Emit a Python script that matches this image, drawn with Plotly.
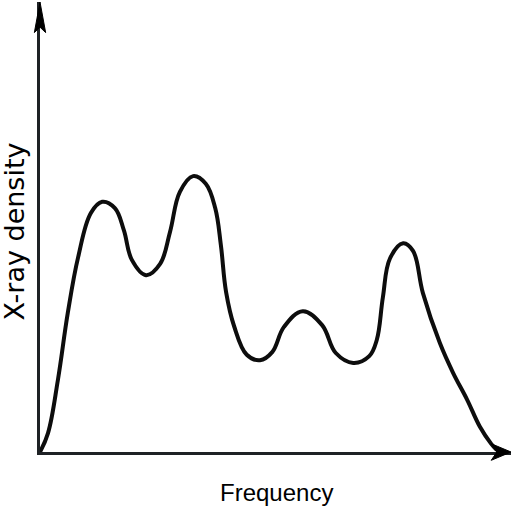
import plotly.graph_objects as go

# curve (frequency 0-100, density 0-100)
frequency = [0, 1.7, 3.8, 5.9, 8.1, 10.8, 13.2, 15.9, 17.8, 19.5, 22.5, 25.5, 27.6,
             29.7, 32.5, 35.2, 37.2, 38.4, 39.5, 41.2, 43.9, 46.7, 49.3, 51.8, 55.8,
             59.9, 62.8, 66.5, 69.9, 71.5, 72.8, 74.3, 77.1, 79.2, 81.3, 84.9, 87.7,
             90.7, 93.4, 95.8, 97.0]
density = [0, 4.2, 16.0, 30.9, 43.3, 53.1, 55.6, 54.2, 49.3, 42.7, 39.3, 41.8, 48.9,
           57.8, 61.3, 59.6, 54.2, 46.0, 35.6, 28.0, 21.6, 20.4, 22.2, 27.8, 31.3,
           28.2, 22.0, 19.8, 21.3, 24.9, 34.4, 43.0, 46.4, 44.7, 35.3, 24.2, 17.6,
           11.6, 5.6, 1.8, 0.4]

x_title = "Frequency"
y_title = "X-ray density"

fig = go.Figure()
fig.add_trace(go.Scatter(
    x=frequency, y=density,
    mode="lines",
    line=dict(color="#0d0d0d", width=4, shape="spline", smoothing=1.1),
    hoverinfo="skip",
    showlegend=False,
    cliponaxis=False
))

axis_col = "#1e2225"

# arrow heads on the two axes (paper coords)
fig.add_shape(type="path", xref="paper", yref="paper",
              path="M 0 1.0 L -0.012 0.932 L 0 0.944 L 0.012 0.932 Z",
              fillcolor="#000", line=dict(color="#000", width=1))
fig.add_shape(type="path", xref="paper", yref="paper",
              path="M 1.0 0 L 0.958 0.0185 L 0.97 0 L 0.958 -0.0185 Z",
              fillcolor="#000", line=dict(color="#000", width=1))

fig.add_annotation(text=y_title, xref="paper", yref="paper", x=-0.055, y=0.49,
                   textangle=-90, showarrow=False, xanchor="center", yanchor="middle",
                   font=dict(family="DejaVu Sans", size=27, color="#000"))
fig.add_annotation(text=x_title, xref="paper", yref="paper", x=0.503, y=-0.091,
                   showarrow=False, xanchor="center", yanchor="middle",
                   font=dict(family="Liberation Sans Narrow, Liberation Sans, Arial, sans-serif",
                             size=24, color="#000"))

fig.update_xaxes(range=[0, 100], showgrid=False, zeroline=False, showticklabels=False,
                 ticks="", showline=True, linecolor=axis_col, linewidth=2.5)
fig.update_yaxes(range=[0, 100], showgrid=False, zeroline=False, showticklabels=False,
                 ticks="", showline=True, linecolor=axis_col, linewidth=2.5)

fig.update_layout(
    width=512, height=512,
    margin=dict(l=40, r=1, t=2, b=60),
    plot_bgcolor="white", paper_bgcolor="white",
)

# page body has a default 8px margin, drop it so the figure sits at 0,0
fig.write_html("out.html", config={"displayModeBar": False},
               post_script="document.body.style.margin='0';")
